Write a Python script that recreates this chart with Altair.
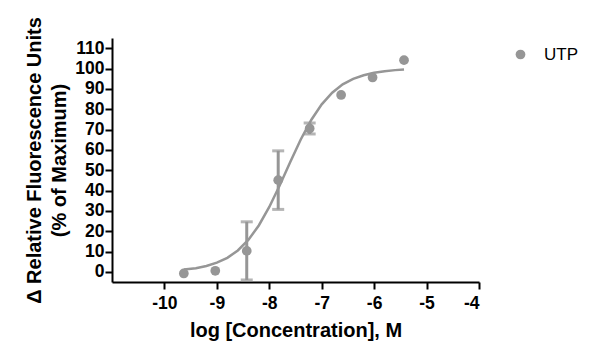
import altair as alt
import pandas as pd

# measured points
log_conc = [-9.63, -9.03, -8.43, -7.83, -7.23, -6.63, -6.03, -5.43]
response = [-0.8, 0.5, 10.3, 45.1, 70.5, 87.0, 95.6, 104.1]
err = [0.0, 0.0, 14.3, 14.4, 2.7, 0.0, 0.0, 0.0]

# fitted curve
curve_x = [-9.63, -9.4, -9.2, -9.0, -8.8, -8.6, -8.4, -8.2, -8.0, -7.8, -7.6,
           -7.4, -7.2, -7.0, -6.8, -6.6, -6.4, -6.2, -6.0, -5.8, -5.6, -5.43]
curve_y = [1.1, 1.8, 2.9, 4.5, 6.9, 10.5, 15.7, 22.8, 31.9, 42.6, 54.0,
           65.1, 74.7, 82.4, 88.1, 92.2, 94.9, 96.7, 97.9, 98.7, 99.2, 99.5]

x_ticks = [-10, -9, -8, -7, -6, -5, -4]
y_ticks = [0, 10, 20, 30, 40, 50, 60, 70, 80, 90, 100, 110]
series = "UTP"
gray = "#969696"
font = "Liberation Sans"

pts = pd.DataFrame({"x": log_conc, "y": response, "err": err, "series": [series] * len(log_conc)})
pts["lo"] = pts["y"] - pts["err"]
pts["hi"] = pts["y"] + pts["err"]
eb = pts[pts["err"] > 0]
curve = pd.DataFrame({"x": curve_x, "y": curve_y})

xscale = alt.Scale(domain=[-11, -4], nice=False, zero=False)
yscale = alt.Scale(domain=[-5, 115], nice=False, zero=False)

xax = alt.Axis(values=x_ticks, title="log [Concentration], M", labelExpr="'' + datum.value",
               labelPadding=5, titlePadding=9, labelOverlap=False)
yax = alt.Axis(values=y_ticks, title=["Δ Relative Fluorescence Units", "(% of Maximum)"],
               labelExpr="'' + datum.value", labelOverlap=False, labelPadding=1,
               titleLineHeight=25, titlePadding=5)


def X(field):
    return alt.X(field, scale=xscale, axis=xax)


def Y(field):
    return alt.Y(field, scale=yscale, axis=yax)


line = alt.Chart(curve).mark_line(color=gray, strokeWidth=2.5).encode(x=X("x:Q"), y=Y("y:Q"))
bars = alt.Chart(eb).mark_rule(color=gray, strokeWidth=3).encode(
    x=X("x:Q"), y=Y("lo:Q"), y2="hi:Q")
cap_hi = alt.Chart(eb).mark_tick(color=gray, orient="horizontal", size=12, thickness=3).encode(
    x=X("x:Q"), y=Y("hi:Q"))
cap_lo = alt.Chart(eb).mark_tick(color=gray, orient="horizontal", size=12, thickness=3).encode(
    x=X("x:Q"), y=Y("lo:Q"))
points = alt.Chart(pts).mark_circle(size=95, opacity=1).encode(
    x=X("x:Q"), y=Y("y:Q"),
    color=alt.Color("series:N", scale=alt.Scale(domain=[series], range=[gray]),
                    legend=alt.Legend(title=None, orient="none", legendX=400, legendY=8,
                                      labelFontSize=17, labelFont=font, labelColor="black",
                                      symbolSize=95, symbolType="circle", labelOffset=15)))

chart = alt.layer(line, bars, cap_hi, cap_lo, points).properties(
    width=367, height=244,
    autosize=alt.AutoSizeParams(type="none"),
    padding={"left": 104, "top": 30, "right": 113, "bottom": 72},
).configure_view(stroke=None).configure_axis(
    grid=False, domainColor="black", domainWidth=2, tickColor="black", tickWidth=2, tickSize=7,
    labelFont=font, labelFontSize=17.5, labelFontWeight="bold", labelColor="black",
    titleFont=font, titleFontSize=20, titleFontWeight="bold", titleColor="black",
)

chart.save("out.html", embed_options={"renderer": "svg", "actions": False})
